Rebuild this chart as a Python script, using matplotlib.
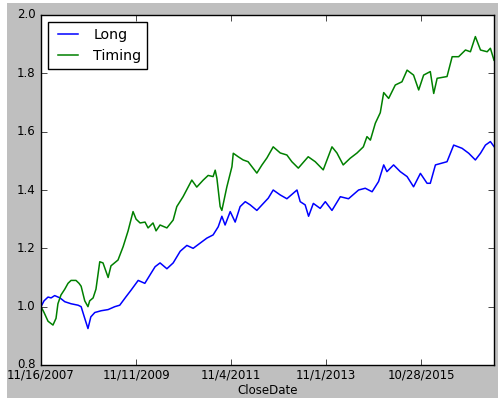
import matplotlib
matplotlib.use("Agg")
import matplotlib.pyplot as plt
from matplotlib.patches import Rectangle

plt.style.use("classic")
plt.rcParams["font.size"] = 8.5
plt.rcParams["xtick.major.pad"] = 2.5
plt.rcParams["ytick.major.pad"] = 4

# trading-day index and cumulative value
long_day = [0, 16, 37, 53, 72, 100, 125, 158, 195, 211, 230, 247, 262, 283,
            316, 353, 388, 414, 447, 474, 511, 546, 579, 600, 626, 662, 695,
            732, 767, 800, 837, 872, 905, 932, 951, 968, 995, 1021, 1047,
            1074, 1100, 1135, 1162, 1195, 1221, 1258, 1293, 1346, 1363, 1389,
            1407, 1432, 1468, 1495, 1530, 1574, 1617, 1670, 1705, 1741, 1775,
            1802, 1819, 1854, 1889, 1925, 1959, 1995, 2030, 2047, 2074, 2135,
            2170, 2214, 2249, 2284, 2311, 2337, 2363, 2382]
long_val = [1.0, 1.02, 1.033, 1.03, 1.038, 1.03, 1.017, 1.01, 1.005, 1.0,
            0.96, 0.925, 0.965, 0.98, 0.986, 0.99, 1.0, 1.005, 1.034, 1.057,
            1.09, 1.08, 1.115, 1.137, 1.15, 1.13, 1.15, 1.19, 1.21, 1.2,
            1.218, 1.235, 1.246, 1.274, 1.31, 1.28, 1.326, 1.29, 1.343, 1.36,
            1.349, 1.33, 1.349, 1.372, 1.4, 1.383, 1.37, 1.4, 1.36, 1.349,
            1.31, 1.354, 1.337, 1.36, 1.33, 1.377, 1.37, 1.4, 1.406, 1.394,
            1.429, 1.486, 1.463, 1.486, 1.463, 1.446, 1.411, 1.457, 1.423,
            1.423, 1.486, 1.497, 1.554, 1.543, 1.526, 1.503, 1.526, 1.554,
            1.566, 1.549]

timing_day = [0, 16, 37, 63, 79, 89, 105, 125, 142, 158, 184, 200, 211, 230,
              247, 256, 274, 289, 309, 326, 353, 368, 405, 432, 458, 484, 500,
              521, 547, 563, 589, 605, 626, 662, 695, 714, 747, 793, 819, 853,
              879, 905, 916, 925, 942, 951, 977, 1004, 1011, 1037, 1063, 1089,
              1109, 1135, 1162, 1188, 1221, 1258, 1293, 1319, 1353, 1405, 1442,
              1484, 1530, 1556, 1589, 1626, 1662, 1695, 1714, 1732, 1758, 1784,
              1802, 1828, 1863, 1898, 1925, 1959, 1986, 2012, 2047, 2065, 2083,
              2135, 2162, 2196, 2232, 2258, 2284, 2311, 2346, 2363, 2382]
timing_val = [1.0, 0.98, 0.95, 0.937, 0.96, 1.01, 1.04, 1.06, 1.08, 1.09,
              1.09, 1.08, 1.07, 1.02, 1.0, 1.02, 1.03, 1.06, 1.154, 1.15, 1.1,
              1.14, 1.16, 1.206, 1.26, 1.326, 1.3, 1.287, 1.29, 1.27, 1.287,
              1.26, 1.28, 1.27, 1.297, 1.343, 1.377, 1.434, 1.41, 1.434, 1.45,
              1.446, 1.468, 1.44, 1.343, 1.33, 1.41, 1.48, 1.526, 1.514, 1.503,
              1.497, 1.48, 1.458, 1.486, 1.51, 1.548, 1.527, 1.52, 1.497,
              1.475, 1.514, 1.497, 1.469, 1.548, 1.527, 1.486, 1.509, 1.527,
              1.548, 1.583, 1.571, 1.629, 1.665, 1.734, 1.714, 1.76, 1.771,
              1.811, 1.794, 1.743, 1.794, 1.806, 1.731, 1.783, 1.789, 1.857,
              1.857, 1.88, 1.874, 1.926, 1.88, 1.874, 1.886, 1.845]

tick_pos = [0, 500, 1000, 1500, 2000]
tick_labels = ["11/16/2007", "11/11/2009", "11/4/2011", "11/1/2013", "10/28/2015"]

fig = plt.figure(figsize=(4.98, 4.0), dpi=100, facecolor="white")
fig.patches.append(Rectangle((7 / 498, 2 / 400), 1 - 7 / 498, 1 - 5 / 400,
                             transform=fig.transFigure, facecolor="0.75",
                             edgecolor="none", zorder=-10))
ax = fig.add_axes([41 / 498, 35 / 400, 453 / 498, 350 / 400])

ax.plot(long_day, long_val, color="b", lw=1.1, label="Long")
ax.plot(timing_day, timing_val, color="g", lw=1.1, label="Timing")

ax.set_xlim(0, 2382)
ax.set_ylim(0.8, 2.0)
ax.set_xticks(tick_pos)
ax.set_xticklabels(tick_labels)
ax.set_xlabel("CloseDate", labelpad=2)
ax.legend(loc="upper left")

fig.savefig("out.png", dpi=100, facecolor=fig.get_facecolor())
